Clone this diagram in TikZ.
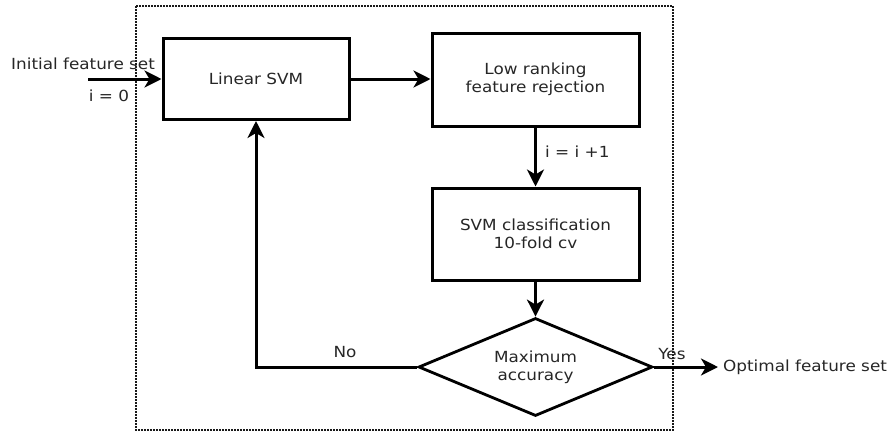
\documentclass[tikz,border=0pt]{standalone}
\usepackage{fontspec}
\setmainfont{DejaVu Sans}[FakeStretch=1.1]
\usetikzlibrary{arrows.meta,shapes.geometric}
\definecolor{txt}{HTML}{262626}
\begin{document}
\begin{tikzpicture}[x=1pt,y=-1pt,
  every node/.style={font=\fontsize{15.3}{18}\selectfont, text=txt},
  box/.style={draw=black, line width=3pt, minimum width=#1, align=center},
  conn/.style={line width=3pt, -{Stealth[length=17pt,width=17pt,inset=5pt]}}]
\useasboundingbox (0,0) rectangle (892,432);
\draw[line width=2.4pt, dash pattern=on 1.6pt off 1.4pt, black!90] (136,6) rectangle (673,430);
\node[box=186pt, minimum height=81pt] (lin) at (256,79) {Linear SVM};
\node[box=207pt, minimum height=93pt] (low) at (535.5,79.5) {Low ranking\\feature rejection};
\node[box=207pt, minimum height=92pt] (cls) at (535.5,234) {SVM classification\\10-fold cv};
\node[draw=black, line width=2.8pt, diamond, aspect=2.4, inner sep=0pt, minimum width=234pt, minimum height=98pt, align=center] (dia) at (535.5,367) {Maximum\\accuracy};
\coordinate (in) at (88,79);
\coordinate (out) at (718,367);
\coordinate (corner) at (256,367);
\node[anchor=base west, inner sep=0pt] (lbl1) at (11,69) {Initial feature set};
\node[anchor=base, inner sep=0pt] (lbl2) at (109,101) {i = 0};
\node[anchor=base west, inner sep=0pt] (lbl3) at (545,157) {i = i +1};
\node[anchor=base, inner sep=0pt] (lbl4) at (345,357) {No};
\node[anchor=base, inner sep=0pt] (lbl5) at (672,359) {Yes};
\node[anchor=west, inner sep=0pt] (lbl6) at (723,367) {Optimal feature set};
\draw[conn] (in) -- (lin.west);
\draw[conn] (lin.east) -- (low.west |- lin.east);
\draw[conn] (low.south) -- (cls.north);
\draw[conn] (cls.south) -- (dia.north);
\draw[conn] (dia.west) -- (corner) -- (lin.south);
\draw[conn] (dia.east) -- (out);
\end{tikzpicture}
\end{document}
